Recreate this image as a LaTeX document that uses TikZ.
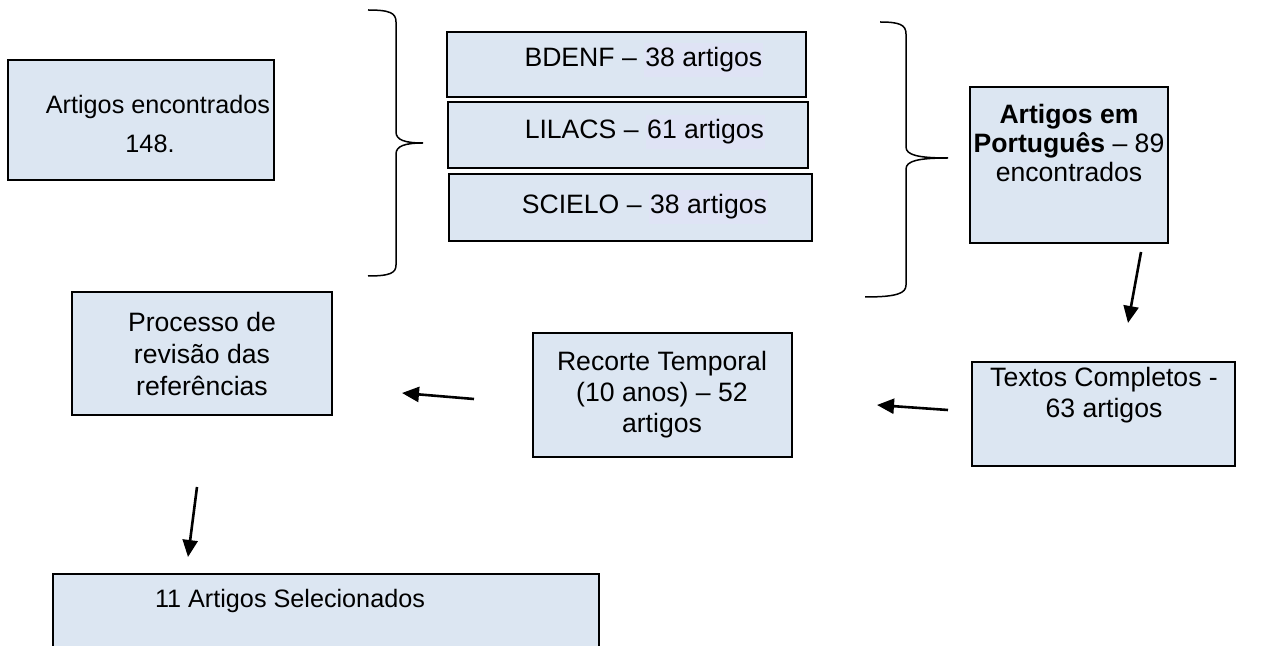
\documentclass[tikz,border=0pt]{standalone}
\usepackage{fontspec}
\setmainfont{Liberation Sans}
\usetikzlibrary{arrows.meta}
\definecolor{boxfill}{RGB}{220,230,242}
\definecolor{hlc}{RGB}{223,227,245}
\newcommand\fl{\rule{0pt}{13pt}}
\newcommand\hlt[1]{{\setlength\fboxsep{0.6pt}\colorbox{hlc}{\strut #1}}}
\begin{document}
\begin{tikzpicture}[x=0.5pt,y=-0.5pt,
  box/.style={draw, line width=1pt, fill=boxfill, inner sep=0pt},
  txt/.style={anchor=north, align=center, inner sep=0pt, font=\fontsize{13.3}{15.5}\selectfont},
  small/.style={font=\fontsize{12.6}{14.5}\selectfont},
  arr/.style={line width=1.3pt, -{Triangle[length=8.5pt,width=7.5pt]}},
  brace/.style={line width=0.75pt}]
\clip (0,0) rectangle (1264,646);
\fill[white] (0,0) rectangle (1264,646);
% boxes
\node[box, minimum width=133pt, minimum height=60pt] (A) at (141,120) {};
\node[box, minimum width=179.5pt, minimum height=32.5pt] (B) at (626.5,64.5) {};
\node[box, minimum width=180pt, minimum height=33pt] (L) at (628,135) {};
\node[box, minimum width=181.5pt, minimum height=33.5pt] (S) at (630.5,207.5) {};
\node[box, minimum width=99pt, minimum height=78pt] (P) at (1069,165) {};
\node[box, minimum width=131.5pt, minimum height=52pt] (T) at (1103.5,414) {};
\node[box, minimum width=129.5pt, minimum height=62pt] (R) at (662.5,395) {};
\node[box, minimum width=130pt, minimum height=61.5pt] (V) at (202,353.5) {};
\node[box, minimum width=273pt, minimum height=66pt] (F) at (326,640) {};
% texts
\node[txt, small] (tA) at (158,87) {\fl Artigos encontrados};
\node[txt, small] (tA2) at (150,126) {\fl 148.};
\node[txt] (tB) at (644,40) {\fl BDENF – \hlt{38 artigos}};
\node[txt] (tL) at (645,112) {\fl LILACS – \hlt{61 artigos}};
\node[txt] (tS) at (645,187) {\fl SCIELO – \hlt{38 artigos}};
\node[txt, font=\fontsize{13.3}{14.5}\selectfont] (tP) at (1069,97) {\fl\textbf{Artigos em}\\\textbf{Português} – 89\\encontrados};
\node[txt] (tT) at (1104,360) {\fl Textos Completos -\\63 artigos};
\node[txt] (tR) at (662,344) {\fl Recorte Temporal\\(10 anos) – 52\\artigos};
\node[txt, font=\fontsize{13.3}{16}\selectfont] (tV) at (202,305) {\fl Processo de\\revisão das\\referências};
\node[txt, small] (tF) at (290,581) {\fl 11 Artigos Selecionados};
% braces
\draw[brace] (368,10) .. controls (390,10) and (396,13) .. (396,22) -- (396,132)
  .. controls (396,140) and (405,143) .. (423,143)
  .. controls (405,143) and (396,146) .. (396,154) -- (396,265)
  .. controls (396,273) and (390,276) .. (368,276);
\draw[brace] (880,22) .. controls (900,22) and (906,25) .. (906,34) -- (906,147)
  .. controls (906,155) and (918,158) .. (948,158)
  .. controls (918,158) and (906,161) .. (906,169) -- (906,285)
  .. controls (906,293) and (898,297) .. (865,297);
% arrows
\coordinate (a1s) at (1141,252); \coordinate (a1e) at (1128,323);
\coordinate (a2s) at (948,410);  \coordinate (a2e) at (877,405);
\coordinate (a3s) at (474,399);  \coordinate (a3e) at (402,393);
\coordinate (a4s) at (197,487);  \coordinate (a4e) at (188,557);
\draw[arr] (a1s) -- (a1e);
\draw[arr] (a2s) -- (a2e);
\draw[arr] (a3s) -- (a3e);
\draw[arr] (a4s) -- (a4e);
\end{tikzpicture}
\end{document}
